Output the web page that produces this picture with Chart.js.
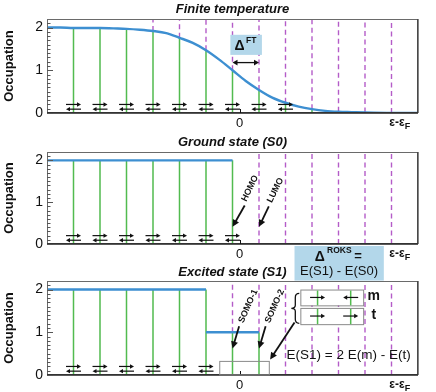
<!DOCTYPE html>
<html><head><meta charset="utf-8">
<script src="https://cdn.jsdelivr.net/npm/chart.js@4.4.1/dist/chart.umd.min.js"></script>
<style>
html,body{margin:0;padding:0;background:#fff;}
#wrap{position:relative;width:436px;height:392px;overflow:hidden;background:#fff;}
canvas{position:absolute;left:0;}
</style></head><body>
<div id="wrap">
<canvas id="c1" width="436" height="130" style="top:0px"></canvas>
<canvas id="c2" width="436" height="131" style="top:130px"></canvas>
<canvas id="c3" width="436" height="147" style="top:245px"></canvas>
</div>
<script>
// ---------- data ----------
const levels = [0,1,2,3,4,5,6,7,8,9,10,11,12];
const xTickValues = [6.27, 12.31];
const xTickLabels = ['0', 'ε-ε'];
const yTickValues = [0, 1, 2];
const yMinorTicks = [0.1,0.2,0.3,0.4,0.5,0.6,0.7,0.8,0.9,1.1,1.2,1.3,1.4,1.5,1.6,1.7,1.8,1.9,2.1];
const Y_MAX = 2.2;

// Finite temperature
const ftCurveX = [-1,-0.5,0,0.5,1,1.5,2,2.5,3,3.5,4,4.5,5,5.5,6,6.5,7,7.5,8,8.5,9,9.5,10,10.5,11,12,13];
const ftCurveY = [2.0,2.0,1.99,1.99,1.99,1.98,1.97,1.95,1.92,1.87,1.76,1.64,1.47,1.25,1.0,0.75,0.54,0.36,0.24,0.15,0.09,0.05,0.03,0.02,0.01,0.0,0.0];
const ftOccupation = [1.99,1.99,1.97,1.92,1.76,1.47,1.0,0.54,0.24,0.09,0.03,0.01,0.0];
const ftPairedLevels = [0,1,2,3,4,5,6,7,8];

// Ground state (S0)
const s0StepX = [-1, 6];
const s0StepY = [2, 2];
const s0Occupation = [2,2,2,2,2,2,2,0,0,0,0,0,0];
const s0PairedLevels = [0,1,2,3,4,5,6];

// Excited state (S1)
const s1StepX = [-1, 5, 5, 5, 7];
const s1StepY = [2, 2, null, 1, 1];
const s1Occupation = [2,2,2,2,2,2,1,1,0,0,0,0,0];
const s1PairedLevels = [0,1,2,3,4,5];

// ---------- style ----------
const FONT = '"Liberation Sans", Arial, Helvetica, sans-serif';
const BLUE = '#3d8fd1', GREEN = '#52bb4f', PURPLE = '#b45cc8', LIGHTBLUE = '#b3d7ea', INK = '#111';

function headAt(ctx,x,y,ang,len,hw){
  ctx.beginPath(); ctx.moveTo(x,y);
  ctx.lineTo(x-len*Math.cos(ang)+hw*Math.sin(ang), y-len*Math.sin(ang)-hw*Math.cos(ang));
  ctx.lineTo(x-len*Math.cos(ang)-hw*Math.sin(ang), y-len*Math.sin(ang)+hw*Math.cos(ang));
  ctx.closePath(); ctx.fill();
}
function arrow(ctx,x1,y1,x2,y2,len,hw,both){
  const ang=Math.atan2(y2-y1,x2-x1);
  const ex=x2-Math.cos(ang)*len*0.6, ey=y2-Math.sin(ang)*len*0.6;
  let sx=x1, sy=y1;
  if(both){ sx=x1+Math.cos(ang)*len*0.6; sy=y1+Math.sin(ang)*len*0.6; }
  ctx.beginPath(); ctx.moveTo(sx,sy); ctx.lineTo(ex,ey); ctx.stroke();
  headAt(ctx,x2,y2,ang,len,hw);
  if(both) headAt(ctx,x1,y1,ang+Math.PI,len,hw);
}
function rotText(ctx,txt,x,y,deg,font){
  ctx.save(); ctx.translate(x,y); ctx.rotate(deg*Math.PI/180);
  ctx.font=font; ctx.textAlign='left'; ctx.textBaseline='middle'; ctx.fillText(txt,0,0); ctx.restore();
}

function drawCommon(chart,p){
  const {ctx, chartArea:a, scales:{x:xs,y:ys}} = chart;
  ctx.save();
  ctx.fillStyle=INK; ctx.strokeStyle=INK;
  // paired arrows
  ctx.lineWidth=1.2;
  p.pairs.forEach(l=>{
    const cx=xs.getPixelForValue(levels[l]);
    const yT=ys.getPixelForValue(0.2), yB=ys.getPixelForValue(0.09);
    arrow(ctx,cx-7.5,yT,cx+7.5,yT,4,2.2,false);
    arrow(ctx,cx+7.5,yB,cx-7.5,yB,4,2.2,false);
  });
  // frame
  ctx.strokeStyle='#6a6a6a'; ctx.lineWidth=1;
  ctx.strokeRect(a.left+0.5,a.top+0.5,a.right-a.left-1,a.bottom-a.top-1);
  ctx.strokeStyle='#222'; ctx.lineWidth=1.6;
  ctx.beginPath(); ctx.moveTo(a.left,a.bottom); ctx.lineTo(a.right,a.bottom); ctx.stroke();
  ctx.strokeStyle='#333'; ctx.lineWidth=1.2;
  ctx.beginPath(); ctx.moveTo(a.right,a.top); ctx.lineTo(a.right,a.bottom); ctx.stroke();
  // y ticks (inward)
  ctx.strokeStyle='#555'; ctx.lineWidth=1;
  yMinorTicks.forEach(v=>{const y=Math.round(ys.getPixelForValue(v))+0.5; ctx.beginPath(); ctx.moveTo(a.left,y); ctx.lineTo(a.left+3.5,y); ctx.stroke();});
  yTickValues.forEach(v=>{const y=Math.round(ys.getPixelForValue(v))+0.5; ctx.beginPath(); ctx.moveTo(a.left,y); ctx.lineTo(a.left+6,y); ctx.stroke();});
  // x tick at 0 (inward)
  ctx.strokeStyle=INK; ctx.lineWidth=1;
  const x0=Math.round(xs.getPixelForValue(xTickValues[0]))+0.5;
  ctx.beginPath(); ctx.moveTo(x0,a.bottom); ctx.lineTo(x0,a.bottom-4); ctx.stroke();
  // ε-εF label
  const xe=xs.getPixelForValue(xTickValues[1]);
  ctx.font='bold 12px '+FONT; const w1=ctx.measureText(xTickLabels[1]).width;
  ctx.font='bold 9px '+FONT; const w2=ctx.measureText('F').width;
  const left=xe-(w1+w2)/2, ym=a.bottom+10;
  ctx.textBaseline='middle'; ctx.textAlign='left';
  ctx.font='bold 12px '+FONT; ctx.fillText(xTickLabels[1],left,ym);
  ctx.font='bold 9px '+FONT; ctx.fillText('F',left+w1,ym+4);
  ctx.restore();
}

function extraFT(chart){
  const {ctx, scales:{x:xs,y:ys}} = chart;
  ctx.save();
  const X=v=>xs.getPixelForValue(v), Y=v=>ys.getPixelForValue(v);
  ctx.fillStyle=LIGHTBLUE;
  ctx.fillRect(X(5.92),Y(1.83),X(7.11)-X(5.92),Y(1.36)-Y(1.83));
  ctx.fillStyle=INK; ctx.textBaseline='middle'; ctx.textAlign='center';
  ctx.font='bold 14px '+FONT; ctx.fillText('Δ',X(6.27),Y(1.57));
  ctx.font='bold 8.5px '+FONT; ctx.fillText('FT',X(6.71),Y(1.69));
  ctx.strokeStyle=INK; ctx.lineWidth=1.3;
  arrow(ctx,X(6.0),Y(1.18),X(7.0),Y(1.18),5,2.8,true);
  ctx.restore();
}

function extraS0(chart){
  const {ctx, scales:{x:xs,y:ys}} = chart;
  ctx.save();
  const X=v=>xs.getPixelForValue(v), Y=v=>ys.getPixelForValue(v);
  ctx.fillStyle=INK; ctx.strokeStyle=INK; ctx.lineWidth=1.8;
  arrow(ctx,X(6.46),Y(0.92),X(6.0),Y(0.41),7,3.5,false);
  arrow(ctx,X(7.37),Y(0.90),X(7.0),Y(0.41),7,3.5,false);
  rotText(ctx,'HOMO',X(6.43),Y(1.03),-64,'bold 9px '+FONT);
  rotText(ctx,'LUMO',X(7.40),Y(1.00),-64,'bold 9px '+FONT);
  ctx.restore();
}

function extraS1(chart){
  const {ctx, scales:{x:xs,y:ys}} = chart;
  ctx.save();
  const X=v=>xs.getPixelForValue(v), Y=v=>ys.getPixelForValue(v);
  // ROKS box (above the panel)
  ctx.fillStyle=LIGHTBLUE;
  ctx.fillRect(X(8.34),Y(3.02),X(11.71)-X(8.34),Y(2.21)-Y(3.02));
  ctx.fillStyle=INK; ctx.textBaseline='middle'; ctx.textAlign='center';
  ctx.font='bold 14px '+FONT; ctx.fillText('Δ',X(9.29),Y(2.77));
  ctx.font='bold 8.5px '+FONT; ctx.fillText('ROKS',X(10.03),Y(2.915));
  ctx.font='bold 13px '+FONT; ctx.fillText('=',X(10.74),Y(2.77));
  ctx.font='13px '+FONT; ctx.fillText('E(S1) - E(S0)',X(10.02),Y(2.42));
  // bottom box around SOMOs
  ctx.strokeStyle='#8a8a8a'; ctx.lineWidth=1;
  ctx.strokeRect(X(5.5)+0.5,Y(0.33)+0.5,X(7.37)-X(5.5),Y(0.015)-Y(0.33));
  // m / t boxes
  [[2.0,1.63,['r','l']],[1.57,1.19,['r','r']]].forEach(([t,b,dirs])=>{
    ctx.fillStyle='#fff';
    ctx.fillRect(X(8.56),Y(t),X(10.93)-X(8.56),Y(b)-Y(t));
    ctx.strokeStyle='#8a8a8a'; ctx.lineWidth=1;
    ctx.strokeRect(X(8.56)+0.5,Y(t)+0.5,X(10.93)-X(8.56),Y(b)-Y(t));
    ctx.strokeStyle=GREEN; ctx.lineWidth=1.5;
    [9.21,10.46].forEach(v=>{ctx.beginPath(); ctx.moveTo(X(v),Y(t)+1); ctx.lineTo(X(v),Y(b)); ctx.stroke();});
    ctx.strokeStyle=INK; ctx.fillStyle=INK; ctx.lineWidth=1.2;
    const ym=(Y(t)+Y(b))/2;
    [9.21,10.46].forEach((v,i)=>{
      const c=X(v);
      if(dirs[i]==='r') arrow(ctx,c-7.5,ym,c+7.5,ym,4,2.2,false);
      else arrow(ctx,c+7.5,ym,c-7.5,ym,4,2.2,false);
    });
  });
  ctx.fillStyle=INK; ctx.font='bold 14px '+FONT; ctx.textAlign='center'; ctx.textBaseline='middle';
  ctx.fillText('m',X(11.33),Y(1.84));
  ctx.fillText('t',X(11.33),Y(1.40));
  // brace
  const bt=Y(1.91), bb=Y(1.21), bm=(bt+bb)/2, xt=X(8.22), xe=X(8.52), xm=(xt+xe)/2;
  ctx.strokeStyle=INK; ctx.lineWidth=1.3;
  ctx.beginPath();
  ctx.moveTo(xe,bt); ctx.quadraticCurveTo(xm,bt,xm,bt+4); ctx.lineTo(xm,bm-3);
  ctx.quadraticCurveTo(xm,bm,xt,bm); ctx.quadraticCurveTo(xm,bm,xm,bm+3);
  ctx.lineTo(xm,bb-4); ctx.quadraticCurveTo(xm,bb,xe,bb); ctx.stroke();
  // arrows
  ctx.fillStyle=INK; ctx.lineWidth=1.8;
  arrow(ctx,X(8.34),Y(1.23),X(7.42),Y(0.365),7,3.5,false);
  arrow(ctx,X(6.25),Y(1.14),X(6.0),Y(0.62),7,3.5,false);
  arrow(ctx,X(7.25),Y(1.14),X(7.0),Y(0.62),7,3.5,false);
  rotText(ctx,'SOMO-1',X(6.32),Y(1.23),-66,'bold 9px '+FONT);
  rotText(ctx,'SOMO-2',X(7.32),Y(1.23),-66,'bold 9px '+FONT);
  // formula
  ctx.font='13.5px '+FONT; ctx.textAlign='center'; ctx.textBaseline='middle';
  ctx.fillText('E(S1) = 2 E(m) - E(t)',X(10.38),Y(0.465));
  ctx.restore();
}

function makeChart(id,p){
  const green=[], purple=[];
  p.occ.forEach((o,i)=>{
    const x=levels[i];
    if(o>0.02){ green.push({x,y:0},{x,y:o},{x,y:null}); }
    if(o<1.95){ purple.push({x,y:o},{x,y:Y_MAX},{x,y:null}); }
  });
  const curve=p.curveX.map((x,i)=>({x,y:p.curveY[i]}));
  return new Chart(document.getElementById(id),{
    type:'line',
    data:{datasets:[
      {data:purple,borderColor:PURPLE,borderWidth:1.4,borderDash:[5,3.5],pointRadius:0,spanGaps:false,order:3},
      {data:green,borderColor:GREEN,borderWidth:1.5,pointRadius:0,spanGaps:false,order:2},
      {data:curve,borderColor:BLUE,borderWidth:2.4,pointRadius:0,spanGaps:false,order:1,
       cubicInterpolationMode:p.smooth?'monotone':'default',tension:0}
    ]},
    options:{
      responsive:false,animation:false,events:[],
      layout:{padding:{left:0,right:18,top:0,bottom:0}},
      plugins:{legend:{display:false},tooltip:{enabled:false},
        title:{display:true,text:p.title,fullSize:false,color:INK,
          font:{family:FONT,size:13,weight:'bold',style:'italic',lineHeight:1.2},
          padding:{top:p.tTop,bottom:p.tBot}}},
      scales:{
        x:{type:'linear',min:-1,max:13,grid:{display:false,drawTicks:false},border:{display:false},
          afterBuildTicks:s=>{s.ticks=xTickValues.map(v=>({value:v}));},
          ticks:{callback:(v,i)=>i===0?xTickLabels[0]:'',font:{family:FONT,size:13},color:INK,padding:3,maxRotation:0,autoSkip:false},
          afterFit:s=>{s.height=17;}},
        y:{min:0,max:Y_MAX,grid:{display:false,drawTicks:false},border:{display:false},
          afterBuildTicks:s=>{s.ticks=yTickValues.map(v=>({value:v}));},
          ticks:{callback:v=>String(v),font:{family:FONT,size:14},color:INK,padding:4,autoSkip:false},
          title:{display:true,text:'Occupation',color:INK,font:{family:FONT,size:13,weight:'bold'},padding:{top:2,bottom:0}},
          afterFit:s=>{s.width=47;}}
      }
    },
    plugins:[{id:'deco',afterDatasetsDraw(chart){drawCommon(chart,p); if(p.extra) p.extra(chart);}}]
  });
}

makeChart('c1',{title:'Finite temperature',tTop:2,tBot:1.4,occ:ftOccupation,curveX:ftCurveX,curveY:ftCurveY,smooth:true,pairs:ftPairedLevels,extra:extraFT});
makeChart('c2',{title:'Ground state (S0)',tTop:4.2,tBot:2.2,occ:s0Occupation,curveX:s0StepX,curveY:s0StepY,smooth:false,pairs:s0PairedLevels,extra:extraS0});
makeChart('c3',{title:'Excited state (S1)',tTop:19.2,tBot:1.2,occ:s1Occupation,curveX:s1StepX,curveY:s1StepY,smooth:false,pairs:s1PairedLevels,extra:extraS1});
</script>
</body></html>
